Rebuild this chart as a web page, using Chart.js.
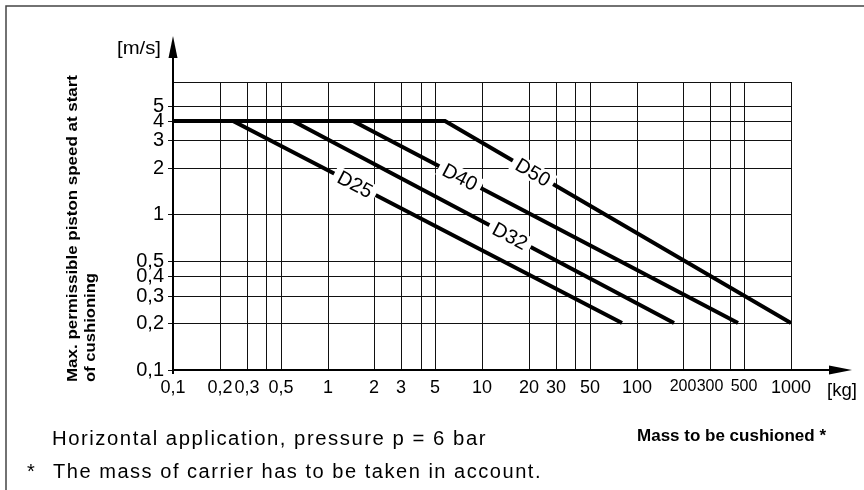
<!DOCTYPE html>
<html>
<head>
<meta charset="utf-8">
<script src="https://cdn.jsdelivr.net/npm/chart.js@4.4.1/dist/chart.umd.min.js"></script>
<style>
  html, body { margin: 0; padding: 0; background: #fff; }
</style>
</head>
<body>
<canvas id="chart" width="864" height="490"></canvas>
<script>
// axis ticks
const xTicks = [0.1, 0.2, 0.3, 0.4, 0.5, 1, 2, 3, 4, 5, 10, 20, 30, 40, 50, 100, 200, 300, 400, 500, 1000]
const xTickLabels = ['0,1', '0,2', '0,3', '', '0,5', '1', '2', '3', '', '5', '10', '20', '30', '', '50', '100', '200', '300', '', '500', '1000']
const yTicks = [0.1, 0.2, 0.3, 0.4, 0.5, 1, 2, 3, 4, 5]
const yTickLabels = ['0,1', '0,2', '0,3', '0,4', '0,5', '1', '2', '3', '4', '5']

// curves: mass [kg] -> max speed [m/s]
const seriesNames = ['D25', 'D32', 'D40', 'D50']
const d25Mass = [0.1, 0.244, 80.5]
const d32Mass = [0.1, 0.598, 175]
const d40Mass = [0.1, 1.46, 454]
const d50Mass = [0.1, 5.76, 1000]
const speedPoints = [4, 4, 0.2]
// where each curve name sits along its sloped part
const labelMass = [1.51, 15.2, 7.2, 21.4]

const masses = [d25Mass, d32Mass, d40Mass, d50Mass]
const sans = '"Liberation Sans", Arial, Helvetica, sans-serif'

function fitText(ctx, text, x, y, width, spacing) {
    ctx.save()
    ctx.letterSpacing = (spacing || 0) + 'px'
    const w = ctx.measureText(text).width
    ctx.translate(x, y)
    ctx.scale(width / w, 1)
    ctx.textAlign = 'left'
    ctx.fillText(text, 0, 0)
    ctx.restore()
}

const decorations = {
    id: 'decorations',
    beforeDatasetsDraw(chart) {
        const {ctx, chartArea} = chart
        const {left, right, top, bottom} = chartArea
        ctx.save()
        ctx.strokeStyle = '#111'
        ctx.lineWidth = 1
        ctx.beginPath()
        ctx.moveTo(left, top + 0.5)
        ctx.lineTo(right, top + 0.5)
        ctx.stroke()

        // axes with arrows
        ctx.strokeStyle = '#000'
        ctx.fillStyle = '#000'
        ctx.lineWidth = 2
        ctx.beginPath()
        ctx.moveTo(left, bottom + 4)
        ctx.lineTo(left, 56)
        ctx.moveTo(left, bottom)
        ctx.lineTo(831, bottom)
        ctx.stroke()
        ctx.beginPath()
        ctx.moveTo(left, 36)
        ctx.lineTo(left - 4.5, 58)
        ctx.lineTo(left + 4.5, 58)
        ctx.closePath()
        ctx.fill()
        ctx.beginPath()
        ctx.moveTo(852, bottom)
        ctx.lineTo(829, bottom - 4.5)
        ctx.lineTo(829, bottom + 4.5)
        ctx.closePath()
        ctx.fill()
        ctx.restore()
    },
    afterDatasetsDraw(chart) {
        const {ctx} = chart
        const xs = chart.scales.x
        const ys = chart.scales.y
        ctx.save()
        ctx.font = '20px ' + sans
        ctx.textAlign = 'center'
        ctx.textBaseline = 'middle'
        masses.forEach((m, i) => {
            const x1 = xs.getPixelForValue(m[1]), y1 = ys.getPixelForValue(speedPoints[1])
            const x2 = xs.getPixelForValue(m[2]), y2 = ys.getPixelForValue(speedPoints[2])
            const lx = xs.getPixelForValue(labelMass[i])
            const ly = y1 + (lx - x1) * (y2 - y1) / (x2 - x1)
            const angle = Math.atan2(y2 - y1, x2 - x1)
            const tw = ctx.measureText(seriesNames[i]).width
            ctx.save()
            ctx.translate(lx, ly)
            ctx.rotate(angle)
            ctx.fillStyle = '#fff'
            ctx.fillRect(-tw / 2 - 5, -9, tw + 10, 18)
            ctx.fillStyle = '#000'
            ctx.fillText(seriesNames[i], 0, 1)
            ctx.restore()
        })
        ctx.restore()
    },
    afterDraw(chart) {
        const {ctx} = chart
        ctx.save()
        // outer frame
        ctx.strokeStyle = '#444'
        ctx.lineWidth = 1.5
        ctx.beginPath()
        ctx.moveTo(6, 490)
        ctx.lineTo(6, 6)
        ctx.lineTo(864, 6)
        ctx.stroke()

        ctx.fillStyle = '#000'
        ctx.textBaseline = 'alphabetic'
        ctx.font = '18px ' + sans
        fitText(ctx, '[m/s]', 117, 54, 44)
        fitText(ctx, '[kg]', 827, 396, 30)

        // y axis title
        ctx.font = 'bold 15px ' + sans
        ctx.save()
        ctx.translate(77, 382)
        ctx.rotate(-Math.PI / 2)
        fitText(ctx, 'Max. permissible piston speed at start', 0, 0, 307)
        ctx.restore()
        ctx.save()
        ctx.translate(95, 382)
        ctx.rotate(-Math.PI / 2)
        fitText(ctx, 'of cushioning', 0, 0, 109)
        ctx.restore()

        ctx.font = 'bold 17px ' + sans
        fitText(ctx, 'Mass to be cushioned *', 637, 441, 189)

        ctx.font = '20px ' + sans
        fitText(ctx, 'Horizontal application, pressure p = 6 bar', 52, 445, 435, 1.5)
        fitText(ctx, 'The mass of carrier has to be taken in account.', 53, 478, 489, 1.5)
        ctx.fillText('*', 27, 478)
        ctx.restore()
    }
}

new Chart(document.getElementById('chart'), {
    type: 'scatter',
    data: {
        datasets: masses.map((m, i) => ({
            label: seriesNames[i],
            data: m.map((v, j) => ({x: v, y: speedPoints[j]})),
            showLine: true,
            borderColor: '#000',
            borderWidth: 4,
            borderCapStyle: 'butt',
            borderJoinStyle: 'miter',
            pointRadius: 0,
            fill: false
        }))
    },
    options: {
        responsive: false,
        animation: false,
        devicePixelRatio: 1,
        layout: {padding: {left: 0, top: 82, right: 73, bottom: 0}},
        plugins: {legend: {display: false}, tooltip: {enabled: false}},
        scales: {
            x: {
                type: 'logarithmic',
                min: 0.1,
                max: 1000,
                alignToPixels: true,
                afterBuildTicks: s => { s.ticks = xTicks.map(v => ({value: v})) },
                afterFit: s => { s.height = 120 },
                border: {display: false},
                grid: {color: '#111', lineWidth: 1, drawTicks: false},
                ticks: {
                    autoSkip: false,
                    maxRotation: 0,
                    padding: 7,
                    color: '#000',
                    font: c => ({family: sans, size: (c.tick && c.tick.value >= 200 && c.tick.value <= 500) ? 16 : 18}),
                    callback: (v, i) => xTickLabels[i]
                }
            },
            y: {
                type: 'logarithmic',
                min: 0.1,
                max: 7.1,
                alignToPixels: true,
                afterBuildTicks: s => { s.ticks = yTicks.map(v => ({value: v})) },
                afterFit: s => { s.width = 173 },
                border: {display: false},
                grid: {color: '#111', lineWidth: 1, drawTicks: true, tickLength: 5},
                ticks: {
                    autoSkip: false,
                    padding: 4,
                    color: '#000',
                    font: {family: sans, size: 20},
                    callback: (v, i) => yTickLabels[i]
                }
            }
        }
    },
    plugins: [decorations]
})
</script>
</body>
</html>
